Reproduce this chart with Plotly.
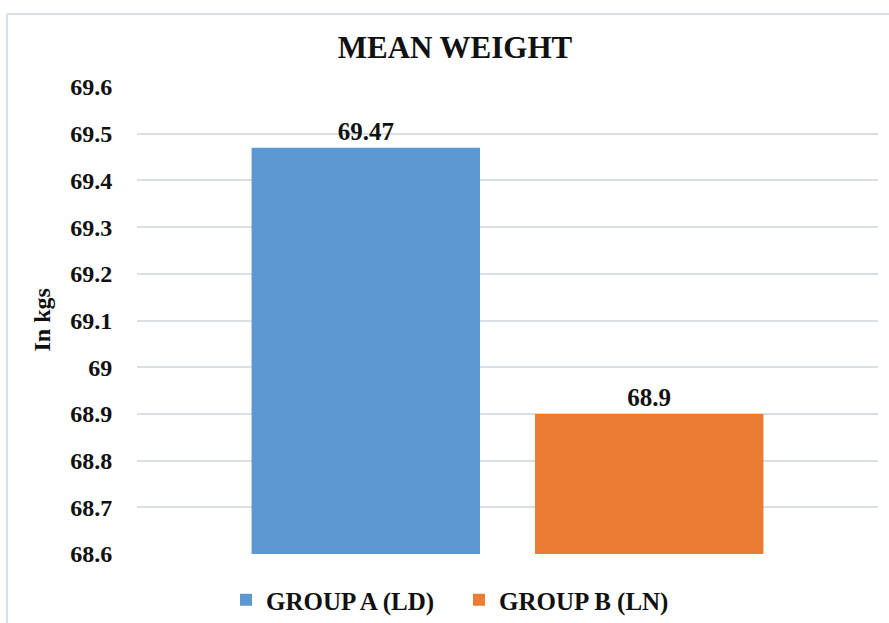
import plotly.graph_objects as go

# Mean body weight per group (kg)
groups = ["GROUP A (LD)", "GROUP B (LN)"]
mean_weight = [69.47, 68.9]
bar_colors = ["#5b98d2", "#ec7b33"]
category = ["Mean weight"]

y_min, y_max, y_step = 68.6, 69.6, 0.1

SERIF = "Liberation Serif, Times New Roman, serif"
TEXT_COLOR = "#111111"
GRID_COLOR = "#dadee5"

W, H = 889, 623
M_L, M_R, M_T, M_B = 137, 11, 87, 69
plot_w = W - M_L - M_R
plot_h = H - M_T - M_B


def px_x(px):
    return (px - M_L) / plot_w


def px_y(px):
    return (H - M_B - px) / plot_h


fig = go.Figure()
for name, val, col in zip(groups, mean_weight, bar_colors):
    fig.add_trace(go.Bar(
        name=name,
        x=category,
        y=[val],
        marker=dict(color=col, line=dict(width=0)),
        text=[f"{val:g}"],
        textposition="outside",
        textfont=dict(family=SERIF, size=25, color=TEXT_COLOR, weight="bold"),
        cliponaxis=False,
        hoverinfo="skip",
    ))

fig.update_layout(
    width=W, height=H,
    margin=dict(l=M_L, r=M_R, t=M_T, b=M_B, autoexpand=False),
    paper_bgcolor="white",
    plot_bgcolor="white",
    barmode="group",
    bargap=0.235,
    bargroupgap=0.194,
    title=dict(
        text="MEAN WEIGHT",
        x=px_x(455), xanchor="center", xref="paper",
        y=1 - 47 / H, yanchor="middle", yref="container",
        font=dict(family=SERIF, size=31, color=TEXT_COLOR, weight="bold"),
    ),
    font=dict(family=SERIF, color=TEXT_COLOR),
    showlegend=True,
    legend=dict(
        orientation="h",
        x=px_x(226), xanchor="left",
        y=px_y(600), yanchor="middle",
        font=dict(family=SERIF, size=25, color=TEXT_COLOR, weight="bold"),
        bgcolor="rgba(0,0,0,0)",
        traceorder="normal",
        entrywidth=188,
        entrywidthmode="pixels",
        itemwidth=30,
    ),
    xaxis=dict(
        showticklabels=False,
        showgrid=False,
        zeroline=False,
        showline=False,
        fixedrange=True,
    ),
    yaxis=dict(
        range=[y_min, y_max],
        dtick=y_step,
        tick0=y_min,
        showgrid=True,
        gridcolor=GRID_COLOR,
        gridwidth=2,
        zeroline=False,
        showline=False,
        ticks="outside",
        ticklen=19,
        tickcolor="rgba(0,0,0,0)",
        tickfont=dict(family=SERIF, size=24, color=TEXT_COLOR, weight="bold"),
        tickformat="~g",
        fixedrange=True,
    ),
    annotations=[dict(
        text="In kgs",
        xref="paper", yref="paper",
        x=px_x(41), y=0.5,
        xanchor="center", yanchor="middle",
        textangle=-90,
        showarrow=False,
        font=dict(family=SERIF, size=24, color=TEXT_COLOR, weight="bold"),
    )],
    shapes=[
        # chart-area frame (left and top edges)
        dict(type="line", xref="paper", yref="paper",
             x0=px_x(7), x1=px_x(7), y0=px_y(H + 10), y1=px_y(14),
             line=dict(color=GRID_COLOR, width=2)),
        dict(type="line", xref="paper", yref="paper",
             x0=px_x(7), x1=px_x(W + 10), y0=px_y(14), y1=px_y(14),
             line=dict(color=GRID_COLOR, width=2)),
    ],
)

fig.write_html("out.html")
